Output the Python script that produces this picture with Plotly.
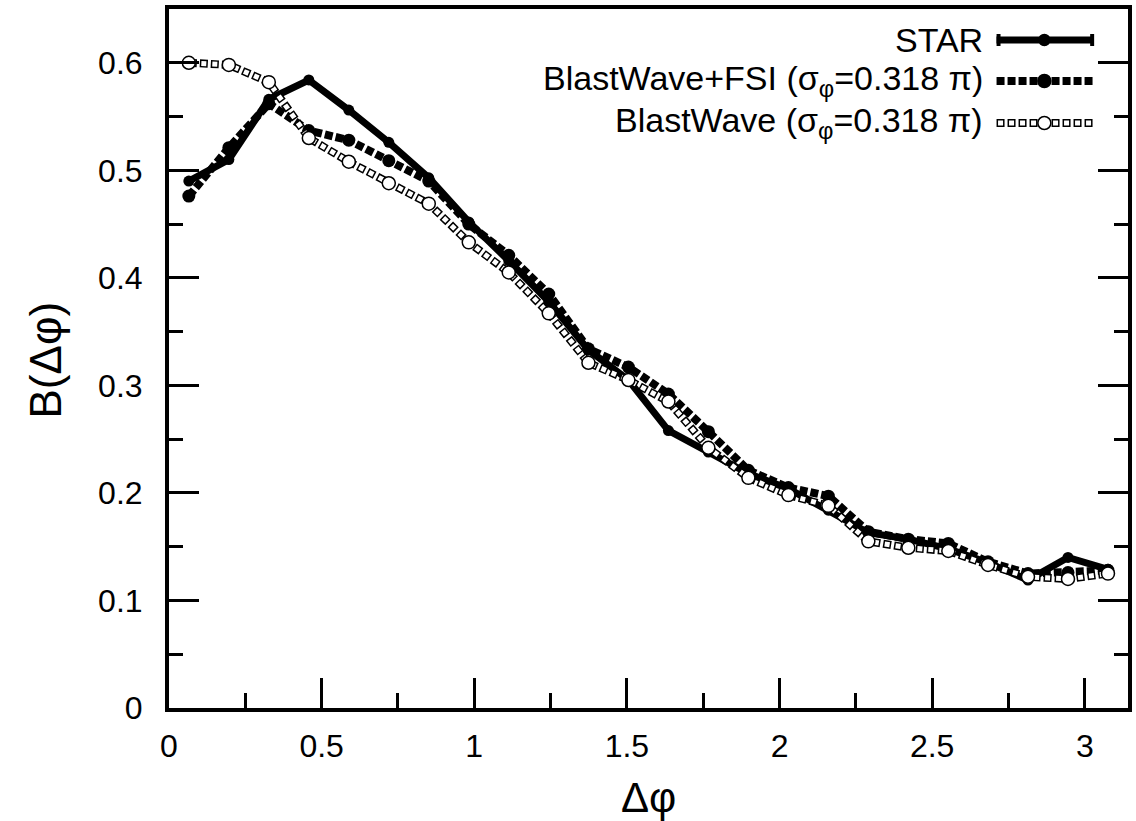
import plotly.graph_objects as go

# bin centres in delta-phi (rad)
dphi = [0.065, 0.196, 0.327, 0.458, 0.589, 0.720, 0.851, 0.982, 1.113, 1.244, 1.374, 1.505,
        1.636, 1.767, 1.898, 2.029, 2.160, 2.291, 2.422, 2.553, 2.683, 2.814, 2.945, 3.076]

star = [0.490, 0.510, 0.566, 0.584, 0.556, 0.526, 0.493, 0.452, 0.416, 0.378, 0.333, 0.305,
        0.258, 0.238, 0.218, 0.204, 0.184, 0.163, 0.157, 0.148, 0.135, 0.119, 0.140, 0.129]

bw_fsi = [0.476, 0.521, 0.562, 0.537, 0.528, 0.509, 0.490, 0.450, 0.421, 0.385, 0.334, 0.317,
          0.292, 0.257, 0.221, 0.205, 0.197, 0.164, 0.157, 0.153, 0.136, 0.125, 0.126, 0.128]

bw = [0.600, 0.598, 0.582, 0.530, 0.508, 0.488, 0.469, 0.433, 0.405, 0.367, 0.321, 0.305,
      0.285, 0.242, 0.214, 0.198, 0.188, 0.155, 0.149, 0.146, 0.133, 0.122, 0.120, 0.125]

labels = ["STAR",
          "BlastWave+FSI (σ<sub>φ</sub>=0.318 π)",
          "BlastWave (σ<sub>φ</sub>=0.318 π)"]

x_ticks = [0, 0.5, 1, 1.5, 2, 2.5, 3]
y_ticks = [0, 0.1, 0.2, 0.3, 0.4, 0.5, 0.6]

FONT = "Liberation Sans, Arial, Helvetica, sans-serif"
W, H = 1136, 821
L, R, T, B = 169, 4, 9, 113
DOT = "8px,3px"
DOT_IN = "0px,1.5px,5px,4.5px"


def px(x):
    return (x - L) / (W - L - R)


def py(y):
    return (H - B - y) / (H - T - B)


fig = go.Figure()

fig.add_trace(go.Scatter(
    x=dphi, y=star, mode="lines+markers",
    line=dict(color="black", width=7),
    marker=dict(symbol="circle", size=11, color="black")))

fig.add_trace(go.Scatter(
    x=dphi, y=bw_fsi, mode="lines+markers",
    line=dict(color="black", width=8, dash=DOT),
    marker=dict(symbol="circle", size=13, color="black")))

# open squares: black dotted line with a white dotted core
fig.add_trace(go.Scatter(
    x=dphi, y=bw, mode="lines",
    line=dict(color="black", width=8, dash=DOT)))
fig.add_trace(go.Scatter(
    x=dphi, y=bw, mode="lines+markers",
    line=dict(color="white", width=5, dash=DOT_IN),
    marker=dict(symbol="circle", size=13, color="white",
                line=dict(color="black", width=1.5))))

# hand-made legend, text on the left of the sample
shapes = []
annotations = []
rows = [40, 81, 123]
x0, x1, xc = 1000, 1097, 1048
for i, (lab, yc) in enumerate(zip(labels, rows)):
    annotations.append(dict(
        x=px(988), y=py(yc), xref="paper", yref="paper", text=lab,
        xanchor="right", yanchor="middle", showarrow=False,
        font=dict(size=34, color="black", family=FONT)))
    if i == 0:
        shapes.append(dict(type="line", xref="paper", yref="paper",
                           x0=px(x0), x1=px(x1), y0=py(yc), y1=py(yc),
                           line=dict(color="black", width=7)))
        for xe in (x0, x1 - 3):
            shapes.append(dict(type="rect", xref="paper", yref="paper",
                               x0=px(xe), x1=px(xe + 4), y0=py(yc - 6), y1=py(yc + 6),
                               fillcolor="black", line=dict(width=0)))
        r, fill = 5.5, "black"
    elif i == 1:
        shapes.append(dict(type="line", xref="paper", yref="paper",
                           x0=px(x0), x1=px(x1), y0=py(yc), y1=py(yc),
                           line=dict(color="black", width=8, dash=DOT)))
        r, fill = 6.5, "black"
    else:
        shapes.append(dict(type="line", xref="paper", yref="paper",
                           x0=px(x0), x1=px(x1), y0=py(yc), y1=py(yc),
                           line=dict(color="black", width=8, dash=DOT)))
        shapes.append(dict(type="line", xref="paper", yref="paper",
                           x0=px(x0), x1=px(x1), y0=py(yc), y1=py(yc),
                           line=dict(color="white", width=5, dash=DOT_IN)))
        r, fill = 6.5, "white"
    shapes.append(dict(type="circle", xref="paper", yref="paper",
                       x0=px(xc - r), x1=px(xc + r), y0=py(yc + r), y1=py(yc - r),
                       fillcolor=fill, line=dict(color="black", width=1.5)))

# axis titles
annotations.append(dict(x=px(650), y=py(797), xref="paper", yref="paper", text="Δφ",
                        showarrow=False, xanchor="center", yanchor="middle",
                        font=dict(size=42, color="black", family=FONT)))
annotations.append(dict(x=px(45), y=py(360), xref="paper", yref="paper", text="B(Δφ)",
                        showarrow=False, xanchor="center", yanchor="middle", textangle=-90,
                        font=dict(size=44, color="black", family=FONT)))

fig.update_layout(
    width=W, height=H,
    margin=dict(l=L, r=R, t=T, b=B),
    paper_bgcolor="white", plot_bgcolor="white",
    showlegend=False,
    font=dict(family=FONT, size=32, color="black"),
    shapes=shapes, annotations=annotations,
)

fig.update_xaxes(
    range=[0, 3.1416], tickvals=x_ticks, ticktext=[str(v) for v in x_ticks],
    ticks="inside", ticklen=30, tickwidth=3, tickcolor="black",
    minor=dict(dtick=0.25, ticks="inside", ticklen=15, tickwidth=3, tickcolor="black"),
    showline=True, linecolor="black", linewidth=4, mirror=True,
    showgrid=False, zeroline=False, ticklabelstandoff=7,
    tickfont=dict(size=32, family=FONT, color="black"),
)
fig.update_yaxes(
    range=[0, 0.65], tickvals=y_ticks, ticktext=["0", "0.1", "0.2", "0.3", "0.4", "0.5", "0.6"],
    ticks="inside", ticklen=30, tickwidth=3, tickcolor="black",
    minor=dict(dtick=0.05, ticks="inside", ticklen=14, tickwidth=3, tickcolor="black"),
    showline=True, linecolor="black", linewidth=4, mirror="ticks",
    showgrid=False, zeroline=False, ticklabelstandoff=16,
    tickfont=dict(size=32, family=FONT, color="black"),
)

fig.write_html("out.html", config={"displayModeBar": False},
               post_script="document.body.style.margin='0';document.body.style.overflow='hidden';")
